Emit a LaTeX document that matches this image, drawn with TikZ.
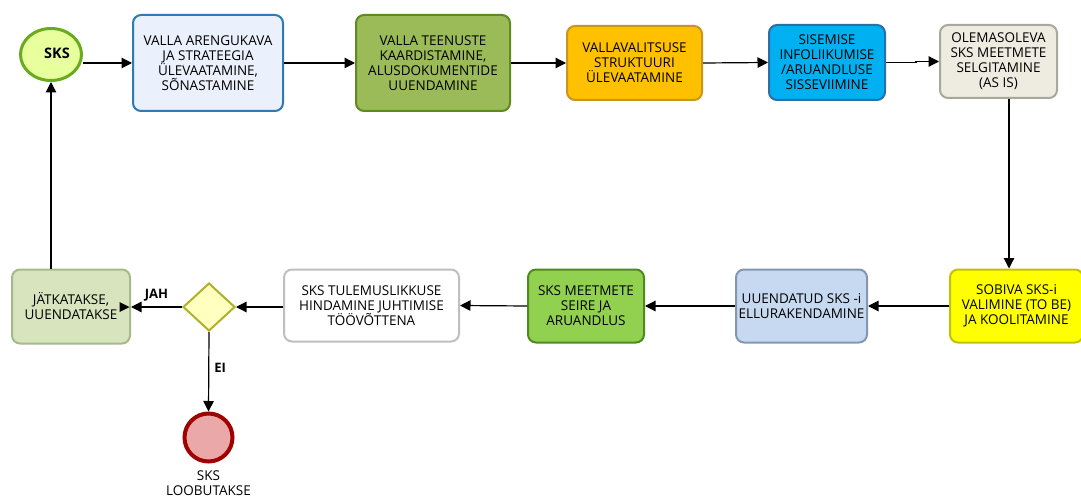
\documentclass[tikz,border=0pt]{standalone}
\usepackage{fontspec}
\setmainfont{Open Sans}
\usetikzlibrary{arrows.meta,shapes.geometric,calc}
\definecolor{startfill}{HTML}{E8FF9E}
\definecolor{startdraw}{HTML}{6AAB1E}
\definecolor{bAfill}{HTML}{EAF0FC}
\definecolor{bAdraw}{HTML}{2E7AB2}
\definecolor{bBfill}{HTML}{9BBB59}
\definecolor{bBdraw}{HTML}{5E8A1E}
\definecolor{bCfill}{HTML}{FFC000}
\definecolor{bCdraw}{HTML}{C8961E}
\definecolor{bDfill}{HTML}{00B0F0}
\definecolor{bDdraw}{HTML}{2C6EA8}
\definecolor{bEfill}{HTML}{EEECE1}
\definecolor{bEdraw}{HTML}{A8A89C}
\definecolor{yfill}{HTML}{FFFF00}
\definecolor{ydraw}{HTML}{C2C200}
\definecolor{ufill}{HTML}{C6D9F1}
\definecolor{udraw}{HTML}{8497B0}
\definecolor{mfill}{HTML}{92D050}
\definecolor{mdraw}{HTML}{4E8A1E}
\definecolor{tdraw}{HTML}{BFBFBF}
\definecolor{jfill}{HTML}{D7E4BD}
\definecolor{jdraw}{HTML}{A6B98A}
\definecolor{dfill}{HTML}{FFFFC0}
\definecolor{ddraw}{HTML}{B0B02A}
\definecolor{efill}{HTML}{EBA8A8}
\definecolor{edraw}{HTML}{A00000}
\begin{document}
\begin{tikzpicture}[x=1pt,y=-1pt,
  box/.style={draw, rounded corners=8pt, line width=2pt, align=center, inner sep=0pt,
    font=\fontsize{13.5}{15}\selectfont},
  arr/.style={-{Triangle[length=10.5pt,width=10.5pt]}, line width=1.2pt},
  lbl/.style={font=\fontsize{13}{15}\selectfont\bfseries, inner sep=0pt},
  txt/.style={font=\fontsize{13.5}{14.5}\selectfont, align=center, inner sep=0pt}]
\useasboundingbox (0,0) rectangle (1081,497);
\fill[white] (0,0) rectangle (1081,497);

% top row
\node[ellipse, draw=startdraw, fill=startfill, line width=3pt, minimum width=61pt, minimum height=52pt, inner sep=0pt] (sks) at (51,54.5) {};
\node[lbl, font=\fontsize{14.5}{16}\selectfont\bfseries] (sksl) at (57,53) {SKS};

\node[box, fill=bAfill, draw=bAdraw, minimum width=150pt, minimum height=96pt] (b1) at (208,63)
  {VALLA ARENGUKAVA\\JA STRATEEGIA\\ÜLEVAATAMINE,\\SÕNASTAMINE};
\node[box, fill=bBfill, draw=bBdraw, minimum width=154pt, minimum height=96pt] (b2) at (433,63)
  {VALLA TEENUSTE\\KAARDISTAMINE,\\ALUSDOKUMENTIDE\\UUENDAMINE};
\node[box, fill=bCfill, draw=bCdraw, minimum width=135pt, minimum height=74pt] (b3) at (634.5,63)
  {VALLAVALITSUSE\\STRUKTUURI\\ÜLEVAATAMINE};
\node[box, fill=bDfill, draw=bDdraw, minimum width=116pt, minimum height=75pt] (b4) at (827,62.5)
  {SISEMISE\\INFOLIIKUMISE\\/ARUANDLUSE\\SISSEVIIMINE};
\node[box, fill=bEfill, draw=bEdraw, minimum width=117pt, minimum height=73pt] (b5) at (998.5,61.5)
  {OLEMASOLEVA\\SKS MEETMETE\\SELGITAMINE\\(AS IS)};

% bottom row
\node[box, fill=yfill, draw=ydraw, minimum width=133pt, minimum height=73pt] (y) at (1016.5,306)
  {SOBIVA SKS-i\\VALIMINE (TO BE)\\JA KOOLITAMINE};
\node[box, fill=ufill, draw=udraw, minimum width=131pt, minimum height=73pt] (u) at (801.5,306)
  {UUENDATUD SKS -i\\ELLURAKENDAMINE};
\node[box, fill=mfill, draw=mdraw, minimum width=116pt, minimum height=73pt] (m) at (586,306)
  {SKS MEETMETE\\SEIRE JA\\ARUANDLUS};
\node[box, fill=white, draw=tdraw, minimum width=175pt, minimum height=72pt] (t) at (371.5,305.5)
  {SKS TULEMUSLIKKUSE\\HINDAMINE JUHTIMISE\\TÖÖVÕTTENA};
\node[diamond, draw=ddraw, fill=dfill, line width=2pt, minimum width=52pt, minimum height=48pt, inner sep=0pt, shape aspect=1.08] (d) at (209,307) {};
\node[box, fill=jfill, draw=jdraw, minimum width=118pt, minimum height=74pt] (j) at (71,306.5)
  {JÄTKATAKSE,\\UUENDATAKSE};
\node[circle, draw=edraw, fill=efill, line width=4pt, minimum size=48pt, inner sep=0pt] (e) at (208.5,437.5) {};
\node[txt] (el) at (208.5,483) {SKS\\LOOBUTAKSE};

% connectors
\draw[arr] (sks.east |- b1.west) -- (b1.west);
\draw[arr] (b1.east) -- (b2.west);
\draw[arr] (b2.east) -- (b3.west);
\draw[arr] (b3.east) -- (b4.west);
\draw[arr] (b4.east) -- ++(30,0) |- (b5.west);
\draw[arr] ([xshift=10.5pt]b5.south) -- ([xshift=10.5pt]b5.south |- y.north);
\draw[arr] (y.west) -- (u.east);
\draw[arr] (u.west) -- (m.east);
\draw[arr] (m.west) -- (t.east);
\draw[arr] (t.west |- d.east) -- (d.east);
\draw[arr] (d.west) -- (j.east |- d.west) node[lbl, pos=0.5, above=5pt] (jah) {JAH};
\fill ([xshift=-1.5pt]j.east |- d.west) -- ++(-10,-5) -- ++(0,10) -- cycle;
\draw[arr] (d.south) -- (e.north) node[lbl, pos=0.45, right=5pt] (ei) {EI};
\draw[arr] (j.north -| sks.south) -- (sks.south);
\end{tikzpicture}
\end{document}
